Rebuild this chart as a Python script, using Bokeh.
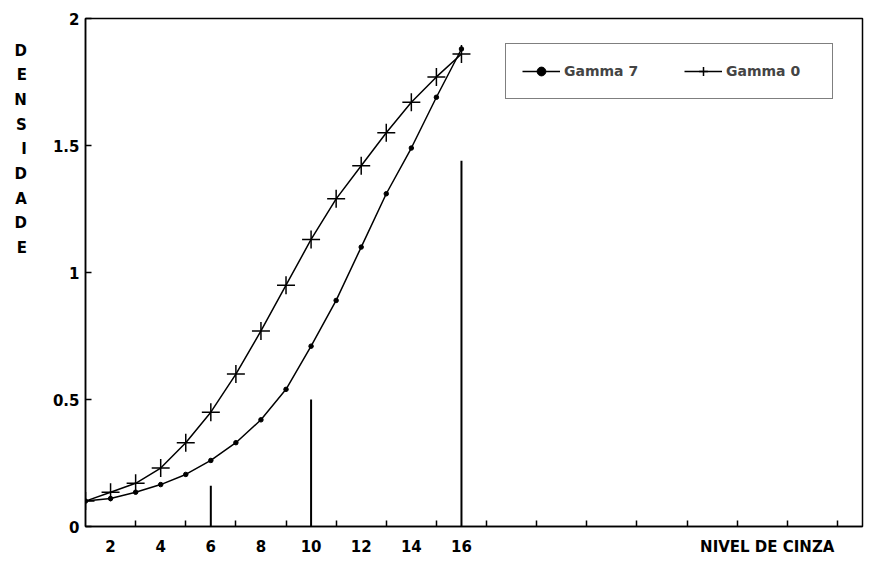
from bokeh.plotting import figure
from bokeh.models import Range1d, FixedTicker, Legend, LegendItem
from bokeh.embed import file_html
from bokeh.resources import INLINE

# ---- data ----
nivel = list(range(1, 17))
gamma7 = [0.10, 0.11, 0.135, 0.165, 0.205, 0.26, 0.33, 0.42, 0.54, 0.71,
          0.89, 1.10, 1.31, 1.49, 1.69, 1.88]
gamma0 = [0.10, 0.135, 0.17, 0.23, 0.33, 0.45, 0.60, 0.77, 0.95, 1.13,
          1.29, 1.42, 1.55, 1.67, 1.77, 1.86]
bar_x = [6, 10, 16]
bar_h = [0.16, 0.50, 1.44]
x_label_ticks = [2, 4, 6, 8, 10, 12, 14, 16]
x_minor_ticks = list(range(3, 32, 2))
x_title = "NIVEL DE CINZA"
x_title_pos = 28.2
y_ticks = [0, 0.5, 1, 1.5, 2]
y_tick_labels = ["0", "0.5", "1", "1.5", "2"]
y_title = "DENSIDADE"

FONT = "DejaVu Sans"

p = figure(width=865, height=558, x_range=Range1d(1, 32), y_range=Range1d(0, 2),
           output_backend="svg", toolbar_location=None,
           min_border_left=85, min_border_right=3, min_border_top=18,
           min_border_bottom=21)
p.grid.visible = False
p.outline_line_color = "black"
p.outline_line_width = 1.5

# x axis
xa = p.xaxis[0]
xa.ticker = FixedTicker(ticks=x_label_ticks + [x_title_pos], minor_ticks=x_minor_ticks)
xa.major_label_overrides = {x_title_pos: x_title}
xa.major_tick_line_color = None
xa.minor_tick_in = 6
xa.minor_tick_out = 0
xa.minor_tick_line_width = 1.5
xa.minor_tick_line_color = "black"
xa.axis_line_width = 1.5
xa.axis_line_color = "black"
xa.major_label_text_font = FONT
xa.major_label_text_font_style = "bold"
xa.major_label_text_font_size = "15px"
xa.major_label_text_color = "black"
xa.major_label_standoff = 5

# y axis
ya = p.yaxis[0]
ya.ticker = FixedTicker(ticks=y_ticks, minor_ticks=[])
ya.major_label_overrides = {t: l for t, l in zip(y_ticks, y_tick_labels)}
ya.major_tick_in = 6
ya.major_tick_out = 0
ya.major_tick_line_width = 1.5
ya.axis_line_width = 1.5
ya.axis_line_color = "black"
ya.major_label_text_font = FONT
ya.major_label_text_font_style = "bold"
ya.major_label_text_font_size = "15px"
ya.major_label_text_color = "black"
ya.major_label_standoff = 6
ya.axis_label = "\n".join(y_title) + "\n" * 10
ya.axis_label_orientation = "horizontal"
ya.axis_label_text_font = FONT
ya.axis_label_text_font_style = "bold"
ya.axis_label_text_font_size = "15px"
ya.axis_label_text_line_height = 1.37
ya.axis_label_text_color = "black"
ya.axis_label_standoff = 23

# vertical bars
p.segment(x0=bar_x, y0=[0] * len(bar_x), x1=bar_x, y1=bar_h,
          line_color="black", line_width=2)

# curves
l7 = p.line(nivel, gamma7, line_color="black", line_width=1.5)
s7 = p.scatter(nivel, gamma7, marker="circle", size=4.5, color="black")
l0 = p.line(nivel, gamma0, line_color="black", line_width=1.5)
s0 = p.scatter(nivel, gamma0, marker="cross", size=18, line_color="black",
               line_width=1.5)

legend = Legend(items=[LegendItem(label="Gamma 7", renderers=[l7, s7]),
                       LegendItem(label="Gamma 0", renderers=[l0, s0])],
                orientation="horizontal", location=(420, 427))
legend.border_line_color = "black"
legend.border_line_width = 1.5
legend.background_fill_alpha = 1
legend.label_text_font = FONT
legend.label_text_font_style = "bold"
legend.label_text_font_size = "14px"
legend.glyph_width = 38
legend.glyph_height = 22
legend.label_height = 22
legend.label_width = 90
legend.label_standoff = 4
legend.spacing = 30
legend.padding = 16
legend.margin = 0
p.add_layout(legend, "center")

open("out.html", "w").write(file_html(p, INLINE))
